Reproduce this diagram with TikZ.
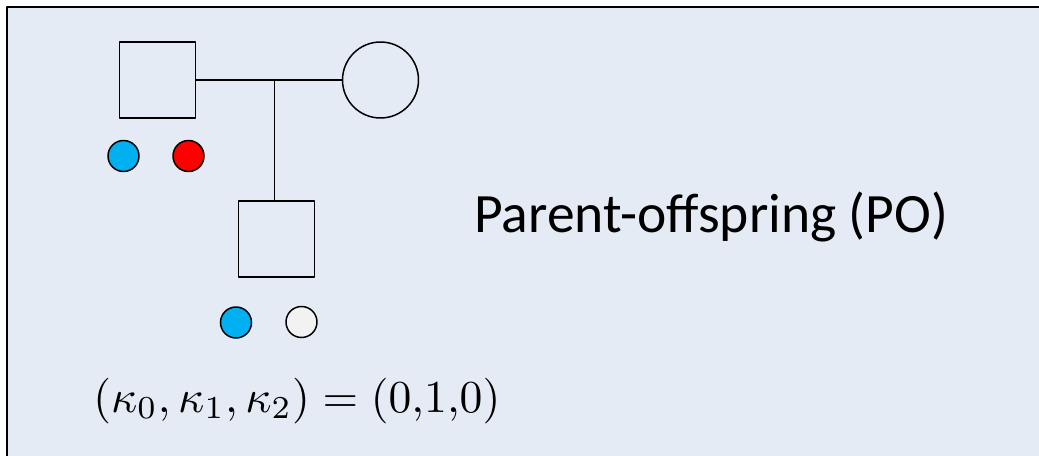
\documentclass[tikz,border=0pt]{standalone}
\usepackage{fontspec}
\setmainfont{Carlito}
\usetikzlibrary{positioning}
\definecolor{panel}{RGB}{228,235,244}
\definecolor{alleleblue}{RGB}{0,176,240}
\definecolor{allelered}{RGB}{255,0,0}
\definecolor{allelewhite}{RGB}{242,242,242}
\tikzset{
	male/.style={draw, line width=0.85pt, minimum size=1.52cm, inner sep=0pt},
	female/.style={draw, circle, line width=0.85pt, minimum size=1.52cm, inner sep=0pt},
	allele/.style={draw, circle, line width=0.85pt, minimum size=0.62cm, inner sep=0pt},
}
\begin{document}
\begin{tikzpicture}[x=0.02cm, y=-0.02cm, line join=round]
			\useasboundingbox (0,0) rectangle (1039,456);
			\fill[panel] (7,7) rectangle (1039,456);
			\draw[line width=1.2pt] (7,456)--(7,7)--(1039,7);
			% pedigree
			\node[male] (father) at (157.5,80) {};
			\node[female] (mother) at (380.5,80) {};
			\node[male] (child) at (276.5,239) {};
			\coordinate (mate) at (274.5,80);
			\draw[line width=0.85pt] (father.east)--(mother.west);
			\draw[line width=0.85pt] (mate)--(mate|-child.north);
			% alleles
			\node[allele, fill=alleleblue] (fa) at (123.5,156) {};
			\node[allele, fill=allelered] (fb) at (188.5,156) {};
			\node[allele, fill=alleleblue] (ca) at (236,322.5) {};
			\node[allele, fill=allelewhite] (cb) at (301.5,322) {};
			% labels
			\node[anchor=base west, font=\fontsize{31.6}{38}\selectfont, inner sep=0pt] (rel) at (474,232.5) {Parent-offspring (PO)};
			\node[anchor=base west, inner sep=0pt] (kappa) at (93,412) {\resizebox{8.14cm}{!}{$(\kappa_0,\kappa_1,\kappa_2)=(0{,}1{,}0)$}};
		\end{tikzpicture}
\end{document}
